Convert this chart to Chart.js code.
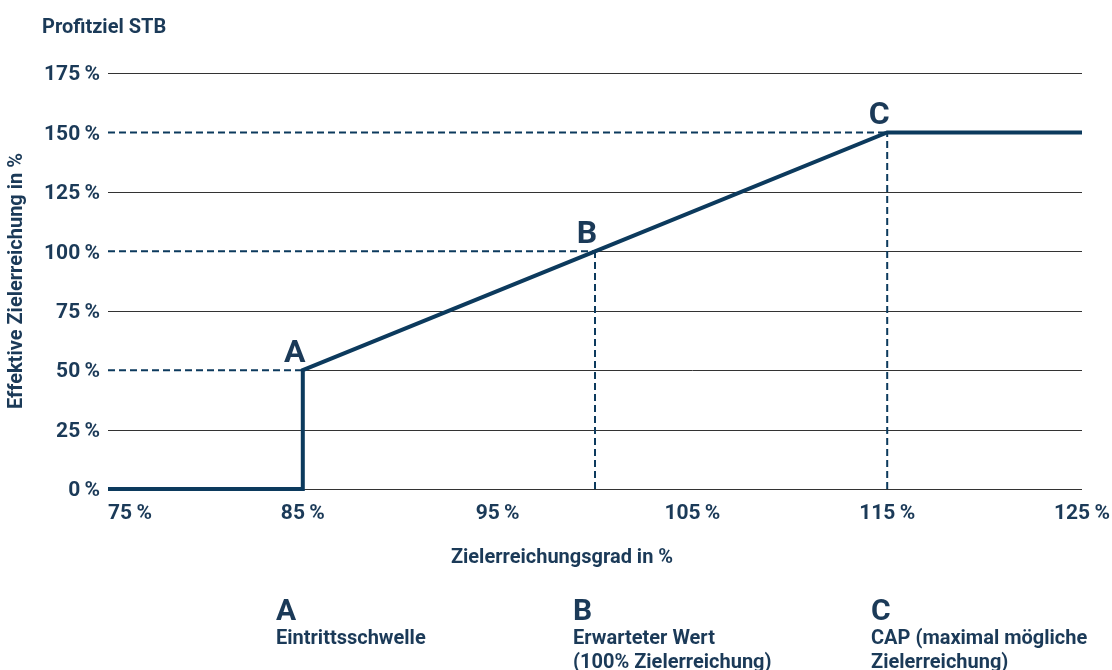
<!DOCTYPE html>
<html>
<head>
<meta charset="utf-8">
<script src="https://cdn.jsdelivr.net/npm/chart.js@4"></script>
<style>
    body { margin: 0; background: #fff; }
    .chart-box { width: 1112px; height: 670px; position: relative; }
</style>
</head>
<body>
<div class="chart-box"><canvas id="profitChart"></canvas></div>
<script>
// data
const curveX = [75, 85, 85, 100, 115, 125];
const curveY = [0, 0, 50, 100, 150, 150];
const xTicks = [75, 85, 95, 105, 115, 125];
const yTicks = [0, 25, 50, 75, 100, 125, 150, 175];
// where each y grid line starts (x value), hidden left of marker under dashes
const gridStartX = [75, 75, 85, 75, 100, 75, 115, 75];
const markerLabels = ['A', 'B', 'C'];
const markerX = [85, 100, 115];
const markerY = [50, 100, 150];
const legendTitles = ['Eintrittsschwelle', 'Erwarteter Wert', 'CAP (maximal mögliche'];
const legendSub = ['', '(100% Zielerreichung)', 'Zielerreichung)'];

const NAVY = '#0c3a5d';
const TEXT = '#1b3a58';
const GRID = '#333333';
const FONT = 'Roboto, "Noto Sans", sans-serif';

const dashedSets = [];
markerLabels.forEach((m, i) => {
    dashedSets.push({
        data: [{ x: xTicks[0], y: markerY[i] }, { x: markerX[i], y: markerY[i] }],
        borderColor: NAVY, borderWidth: 2, borderDash: [7, 4],
        pointRadius: 0, clip: false, order: 1
    });
    if (i > 0) {
        dashedSets.push({
            data: [{ x: markerX[i], y: 0 }, { x: markerX[i], y: markerY[i] }],
            borderColor: NAVY, borderWidth: 2, borderDash: [7, 4],
            pointRadius: 0, clip: false, order: 1
        });
    }
});

const decorPlugin = {
    id: 'decor',
    beforeDatasetsDraw(chart) {
        const { ctx, scales: { x, y } } = chart;
        ctx.save();
        ctx.strokeStyle = GRID;
        ctx.lineWidth = 1;
        yTicks.forEach((v, i) => {
            const py = Math.round(y.getPixelForValue(v)) + 0.5;
            ctx.beginPath();
            ctx.moveTo(x.getPixelForValue(gridStartX[i]), py);
            ctx.lineTo(x.getPixelForValue(xTicks[xTicks.length - 1]), py);
            ctx.stroke();
        });
        ctx.restore();
    },
    afterDraw(chart) {
        const { ctx, scales: { x, y } } = chart;
        ctx.save();
        ctx.fillStyle = TEXT;

        // heading
        ctx.font = `bold 20px ${FONT}`;
        ctx.textAlign = 'left';
        ctx.textBaseline = 'alphabetic';
        ctx.fillText('Profitziel STB', 42, 33);

        // y ticks
        ctx.font = `bold 21px ${FONT}`;
        ctx.textAlign = 'right';
        ctx.textBaseline = 'middle';
        yTicks.forEach(v => {
            ctx.fillText(v + '\u2009%', 100, y.getPixelForValue(v) + 2);
        });

        // x ticks
        xTicks.forEach((v, i) => {
            ctx.textAlign = i === 0 ? 'left' : 'center';
            ctx.fillText(v + '\u2009%', x.getPixelForValue(v), 514);
        });

        // axis titles
        ctx.font = `bold 20px ${FONT}`;
        ctx.textAlign = 'center';
        ctx.fillText('Zielerreichungsgrad in %', 562, 558);
        ctx.save();
        ctx.translate(17, 281);
        ctx.rotate(-Math.PI / 2);
        ctx.fillText('Effektive Zielerreichung in %', 0, 0);
        ctx.restore();

        // marker letters
        ctx.font = `bold 32px ${FONT}`;
        ctx.textAlign = 'center';
        ctx.textBaseline = 'alphabetic';
        markerLabels.forEach((m, i) => {
            ctx.fillText(m, x.getPixelForValue(markerX[i]) - 8, y.getPixelForValue(markerY[i]) - 8);
        });

        // explanation below
        const cols = [276, 573, 871];
        markerLabels.forEach((m, i) => {
            ctx.textAlign = 'left';
            ctx.font = `bold 30px ${FONT}`;
            ctx.fillText(m, cols[i], 620);
            ctx.font = `bold 20px ${FONT}`;
            ctx.fillText(legendTitles[i], cols[i], 644);
            if (legendSub[i]) ctx.fillText(legendSub[i], cols[i], 668);
        });
        ctx.restore();
    }
};

new Chart(document.getElementById('profitChart'), {
    type: 'line',
    data: {
        datasets: [{
            data: curveX.map((v, i) => ({ x: v, y: curveY[i] })),
            borderColor: NAVY,
            borderWidth: 4,
            pointRadius: 0,
            tension: 0,
            clip: false,
            order: 0,
            borderJoinStyle: 'miter'
        }, ...dashedSets]
    },
    options: {
        responsive: true,
        maintainAspectRatio: false,
        animation: false,
        layout: { padding: { left: 108, right: 30, top: 73, bottom: 181 } },
        plugins: { legend: { display: false }, tooltip: { enabled: false } },
        scales: {
            x: { type: 'linear', min: 75, max: 125, display: false },
            y: { type: 'linear', min: 0, max: 175, display: false }
        }
    },
    plugins: [decorPlugin]
});
</script>
</body>
</html>
